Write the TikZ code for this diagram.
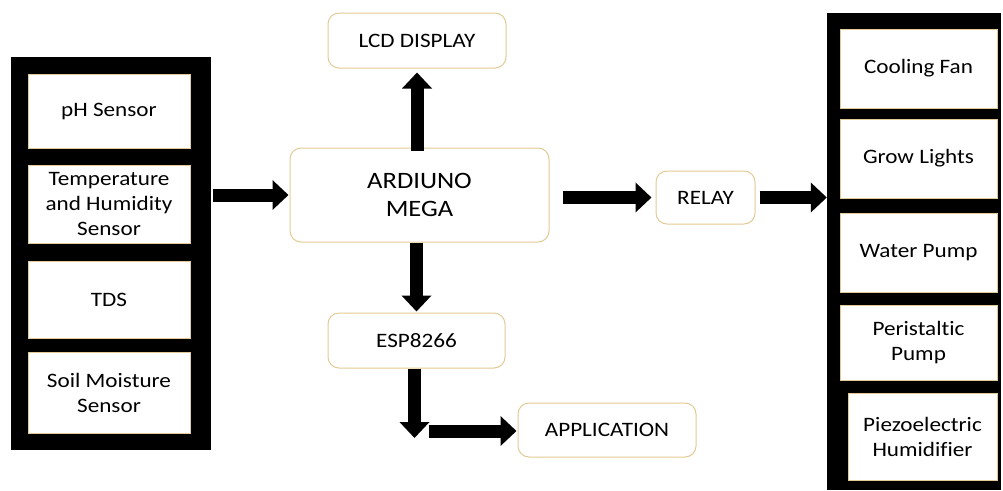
\documentclass[tikz,border=0pt]{standalone}
\usepackage{fontspec}
\setmainfont{Carlito}[FakeStretch=1.13, Ligatures=NoCommon]
\usepackage{tikz}
\usetikzlibrary{arrows.meta}
\usetikzlibrary{positioning}
\definecolor{tan}{RGB}{226,202,150}
\tikzset{panel/.style = {fill = black, draw = none}}
\tikzset{item/.style = {draw = tan, fill = white, line width = 1pt, align = center,
                        font = \fontsize{20.5}{25}\selectfont}}
\tikzset{block/.style = {draw = tan, fill = white, line width = 1pt, rounded corners = 11pt,
                         align = center, font = \fontsize{20.5}{25}\selectfont}}
\tikzset{fat/.style = {line width = 13pt, -{Triangle[width=29pt, length=16pt]}}}

\begin{document}
\begin{tikzpicture}[x=1pt, y=-1pt]
      \useasboundingbox (0, 0) rectangle (1003, 490);
      % sensors
      \node [panel, minimum width=200pt, minimum height=393pt] (sensors) at (111, 253.5) {};
      \node [item, minimum width=162pt, minimum height=74pt] (ph) at (109, 111) {pH Sensor};
      \node [item, minimum width=162pt, minimum height=78pt] (temp) at (109, 204) {Temperature\\and Humidity\\Sensor};
      \node [item, minimum width=162pt, minimum height=77pt] (tds) at (109, 299.5) {TDS};
      \node [item, minimum width=162pt, minimum height=81pt] (soil) at (109, 392.5) {Soil Moisture\\Sensor};
      % controller
      \node [block, minimum width=259pt, minimum height=94pt,
             font=\fontsize{23.5}{28}\selectfont] (arduino) at (419.5, 195) {ARDIUNO\\MEGA};
      \node [block, minimum width=178pt, minimum height=55pt] (lcd) at (417, 40.5) {LCD DISPLAY};
      \node [block, minimum width=177pt, minimum height=55pt] (esp) at (416.5, 340.5) {ESP8266};
      \node [block, minimum width=178pt, minimum height=54pt] (app) at (607, 430) {APPLICATION};
      \node [block, minimum width=99pt, minimum height=53pt] (relay) at (705.5, 197.5) {RELAY};
      % actuators
      \node [panel, minimum width=174pt, minimum height=477pt] (actuators) at (914, 251.5) {};
      \node [item, minimum width=157pt, minimum height=79pt] (fan) at (918.5, 68.5) {Cooling Fan};
      \node [item, minimum width=157pt, minimum height=79pt] (lights) at (918.5, 158.5) {Grow Lights};
      \node [item, minimum width=157pt, minimum height=79pt] (pump) at (918.5, 252.5) {Water Pump};
      \node [item, minimum width=157pt, minimum height=75pt] (peri) at (918.5, 342.5) {Peristaltic\\Pump};
      \node [item, minimum width=149pt, minimum height=87pt] (humid) at (922.5, 436.5) {Piezoelectric\\Humidifier};
      % arrows
      \coordinate (espdrop) at (414.5, 438);
      \coordinate (appfeed) at (429, 431);
      \draw [fat, shorten <=2pt, shorten >=1pt] (sensors.east |- arduino.west) -- (arduino.west);
      \draw [fat, shorten <=-3pt, shorten >=4pt] (arduino.north -| lcd.south) -- (lcd.south);
      \draw [fat, shorten >=1pt] (arduino.south -| esp.north) -- (esp.north);
      \draw [fat] (esp.south -| espdrop) -- (espdrop);
      \draw [fat, shorten >=1pt] (appfeed) -- (appfeed -| app.west);
      \draw [fat, shorten <=13pt, shorten >=4pt] (arduino.east |- relay.west) -- (relay.west);
      \draw [fat, shorten <=4pt] (relay.east) -- (relay.east -| actuators.west);
    \end{tikzpicture}
\end{document}
